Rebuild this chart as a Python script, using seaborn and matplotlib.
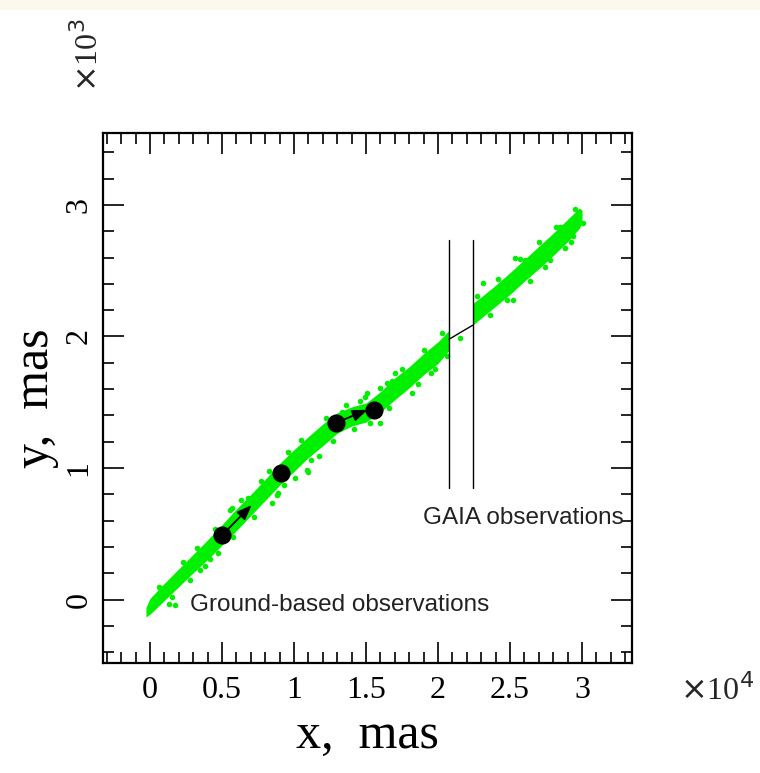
import numpy as np
import pandas as pd
import matplotlib
matplotlib.use("Agg")
import matplotlib.pyplot as plt
from matplotlib.ticker import MultipleLocator
import seaborn as sns

# green band, ground-based part (x, lower edge, upper edge), mas
ground_x = [-280, 0, 1000, 2000, 3000, 4000, 5000, 6000, 7000, 8000, 9000, 10000,
            11000, 12000, 13000, 14000, 15000, 16000, 17000, 18000, 19000, 20000, 20800]
ground_lo = [-130, -110, -5, 100, 205, 305, 415, 525, 640, 755, 870, 975,
             1080, 1170, 1265, 1320, 1350, 1425, 1520, 1610, 1710, 1795, 1900]
ground_hi = [-60, 10, 125, 235, 345, 455, 570, 690, 800, 915, 1035, 1140,
             1240, 1335, 1420, 1465, 1495, 1580, 1685, 1770, 1870, 1960, 2050]

# green band, GAIA part
gaia_x = [22400, 23000, 24000, 25000, 26000, 27000, 28000, 29000, 29800, 30000]
gaia_lo = [2085, 2140, 2230, 2320, 2420, 2515, 2615, 2720, 2820, 2860]
gaia_hi = [2250, 2300, 2390, 2485, 2585, 2685, 2785, 2890, 2975, 2960]

# scattered points along the edges of the band
stray_x = [1320, 1736, 5550, 6800, 8470, 8800, 10070, 10880, 10970, 11740, 15970,
           18170, 17010, 16440, 14930, 13310, 11460, 10190, 5670, 8890, 15050,
           26040, 27780, 25210, 23130, 25350, 30070, 23380, 3500, 2500, 700, 19500,
           21500, 28500, 12500, 7500, 4200, 16800, 24500, 29400,
           600, 1500, 2300, 2800, 3300, 3800, 4500, 4700, 5800, 6300, 7200, 7700,
           8300, 9300, 9600, 10500, 11200, 12200, 12700, 13600, 14200, 14600, 15300,
           16000, 16600, 17500, 18600, 19000, 19800, 20300, 20600, 22700, 23600,
           24200, 24800, 25700, 26400, 27000, 27400, 28200, 28800, 29500, 29200]
stray_y = [-30, -38, 683, 775, 737, 797, 926, 987, 972, 1093, 1346,
           1574, 1723, 1647, 1544, 1430, 1215, 1116, 698, 812, 1572,
           2582, 2582, 2278, 2407, 2597, 2862, 2265, 225, 250, 90, 1720,
           1990, 2835, 1345, 815, 310, 1665, 2380, 2760,
           100, 20, 290, 150, 390, 260, 540, 355, 480, 760, 630, 905,
           980, 870, 1120, 1215, 1065, 1380, 1205, 1480, 1300, 1510, 1340,
           1610, 1455, 1755, 1640, 1900, 1750, 2025, 1850, 2305, 2160,
           2440, 2275, 2590, 2425, 2715, 2525, 2835, 2670, 2970, 2715]

# gap between the two data sets
gap_x = [20780, 22400]
gap_y = [1980, 2085]
lines_x = [20780, 22400]
lines_y = [850, 2730]

# black dots and the two motion arrows
dots_x = [5000, 9100, 12900, 15560]
dots_y = [490, 965, 1344, 1443]
arrow_from = [(5000, 490), (12900, 1344)]
arrow_to = [(7060, 720), (15100, 1443)]

x_ticks = [0, 5000, 10000, 15000, 20000, 25000, 30000]
x_labels = ["0", "0.5", "1", "1.5", "2", "2.5", "3"]
y_ticks = [0, 1000, 2000, 3000]
y_labels = ["0", "1", "2", "3"]

sns.set_style("ticks")
serif = ["Liberation Serif", "DejaVu Serif"]
sans = ["Liberation Sans", "DejaVu Sans"]
green = "#00f000"

fig = plt.figure(figsize=(7.6, 7.73), dpi=100)
ax = fig.add_axes([0.1355, 0.1423, 0.6961, 0.6857])
fig.patches.append(plt.Rectangle((0, 0.989), 1, 0.011, transform=fig.transFigure,
                                 color="#fdf8ec", zorder=0))

ax.fill_between(ground_x, ground_lo, ground_hi, color=green, lw=0, zorder=2)
ax.fill_between(gaia_x, gaia_lo, gaia_hi, color=green, lw=0, zorder=2)
stray = pd.DataFrame({"x": stray_x, "y": stray_y})
sns.scatterplot(data=stray, x="x", y="y", color=green, s=16, linewidth=0, ax=ax, zorder=2)

sns.lineplot(x=gap_x, y=gap_y, color="black", lw=1, ax=ax, zorder=3)
for lx in lines_x:
    ax.plot([lx, lx], lines_y, color="black", lw=1, zorder=3)

for (x0, y0), (x1, y1) in zip(arrow_from, arrow_to):
    ax.annotate("", xy=(x1, y1), xytext=(x0, y0), zorder=4,
                arrowprops=dict(arrowstyle="-|>,head_length=0.9,head_width=0.35",
                                color="black", lw=1.3, shrinkA=0, shrinkB=0))
dots = pd.DataFrame({"x": dots_x, "y": dots_y})
sns.scatterplot(data=dots, x="x", y="y", color="black", s=170, linewidth=0, ax=ax, zorder=5)

ax.text(2800, -40, "Ground-based observations", fontsize=17.5, family=sans, va="center",
        color="#222222")
ax.text(32900, 620, "GAIA observations", fontsize=17.5, family=sans, va="center",
        ha="right", color="#222222")

ax.set_xlim(-3260, 33470)
ax.set_ylim(-480, 3546)
ax.set_xticks(x_ticks)
ax.set_xticklabels(x_labels, family=serif, fontsize=23, color="black")
ax.set_yticks(y_ticks)
ax.set_yticklabels(y_labels, family=serif, fontsize=23, rotation=90, va="center",
                   color="black")
ax.xaxis.set_minor_locator(MultipleLocator(1000))
ax.yaxis.set_minor_locator(MultipleLocator(200))
ax.tick_params(which="both", direction="in", top=True, right=True, width=1.2, color="black")
ax.tick_params(which="major", length=15)
ax.tick_params(which="minor", length=8)
ax.tick_params(axis="x", which="major", pad=9)
ax.tick_params(axis="y", which="major", pad=7)
for sp in ax.spines.values():
    sp.set_linewidth(1.6)
    sp.set_color("black")

ax.set_xlabel("x,  mas", family=serif, fontsize=36, labelpad=6, color="black")
ax.set_ylabel("y,  mas", family=serif, fontsize=36, labelpad=4, color="black")
fig.text(0.943, 0.107, "$\\times$10$^4$", family=serif, fontsize=23, ha="center", va="center")
fig.text(0.116, 0.929, "$\\times$10$^3$", family=serif, fontsize=23, ha="center", va="center",
         rotation=90)

fig.savefig("out.png", dpi=100)
